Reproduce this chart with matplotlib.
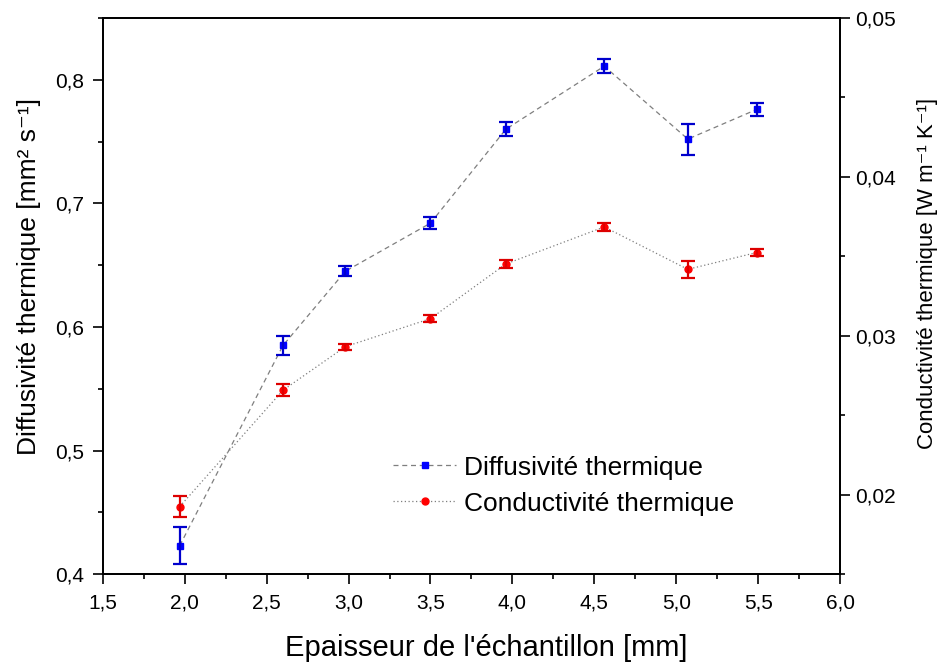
import matplotlib
matplotlib.use("Agg")
import matplotlib.pyplot as plt
from matplotlib.ticker import FuncFormatter, MultipleLocator

plt.rcParams['font.family'] = ['Liberation Sans', 'DejaVu Sans']

# data
epaisseur = [1.97, 2.60, 2.98, 3.50, 3.96, 4.56, 5.07, 5.49]
diffusivite = [0.423, 0.585, 0.645, 0.684, 0.760, 0.811, 0.752, 0.776]
diff_err = [0.015, 0.008, 0.004, 0.005, 0.0055, 0.0055, 0.0125, 0.0054]
conductivite = [0.01925, 0.02657, 0.02931, 0.03108, 0.03452, 0.03685, 0.03418, 0.03524]
cond_err = [0.00067, 0.00037, 0.00018, 0.00023, 0.00025, 0.00025, 0.00055, 0.00024]


def comma(fmt):
    return FuncFormatter(lambda v, p: (fmt % v).replace('.', ','))


fig = plt.figure(figsize=(9.42, 6.66), dpi=100)
ax = fig.add_axes([0.109, 0.138, 0.783, 0.835])
ax2 = ax.twinx()

l1, = ax.plot(epaisseur, diffusivite, ls=(0, (4, 3)), color='#7f7f7f', lw=0.9,
              marker='s', ms=5, mfc='#0000ff', mec='#0000ff')
ax.errorbar(epaisseur, diffusivite, yerr=diff_err, fmt='none', ecolor='#0000cc',
            elinewidth=1.6, capsize=5, capthick=1.6)

l2, = ax2.plot(epaisseur, conductivite, ls=(0, (1, 2)), color='#7f7f7f', lw=0.9,
               marker='o', ms=5, mfc='#ff0000', mec='#ff0000')
ax2.errorbar(epaisseur, conductivite, yerr=cond_err, fmt='none', ecolor='#dd0000',
             elinewidth=1.6, capsize=5, capthick=1.6)

ax.set_xlim(1.5, 6.0)
ax.set_ylim(0.4, 0.85)
ax2.set_ylim(0.015, 0.05)

ax.xaxis.set_major_locator(MultipleLocator(0.5))
ax.xaxis.set_minor_locator(MultipleLocator(0.25))
ax.yaxis.set_major_locator(MultipleLocator(0.1))
ax.yaxis.set_minor_locator(MultipleLocator(0.05))
ax2.yaxis.set_major_locator(MultipleLocator(0.01))
ax2.yaxis.set_minor_locator(MultipleLocator(0.005))

ax.xaxis.set_major_formatter(comma('%.1f'))
ax.yaxis.set_major_formatter(comma('%.1f'))
ax2.yaxis.set_major_formatter(comma('%.2f'))

for a in (ax, ax2):
    a.tick_params(which='major', direction='out', length=7, width=1.2, labelsize=15)
    a.tick_params(which='minor', direction='out', length=3.5, width=1.2)
    for s in a.spines.values():
        s.set_linewidth(1.3)
ax.tick_params(axis='x', which='both', top=False, pad=7)
ax.tick_params(axis='y', which='major', pad=6)

ax.set_xlabel("Epaisseur de l'échantillon [mm]", fontsize=21)
ax.xaxis.set_label_coords(0.52, -0.108)
ax.set_ylabel("Diffusivité thermique [mm² s⁻¹]", fontsize=19)
ax.yaxis.set_label_coords(-0.083, 0.535)
ax2.set_ylabel("Conductivité thermique [W m⁻¹ K⁻¹]", fontsize=16)
ax2.yaxis.set_label_coords(1.104, 0.54)

ax.legend([l1, l2], ["Diffusivité thermique", "Conductivité thermique"],
          loc='upper left', bbox_to_anchor=(0.3935, 0.213), frameon=False,
          fontsize=19, numpoints=1, handlelength=2.4, handletextpad=0.3,
          labelspacing=0.45, borderpad=0, borderaxespad=0)

fig.savefig("out.png", dpi=100)
